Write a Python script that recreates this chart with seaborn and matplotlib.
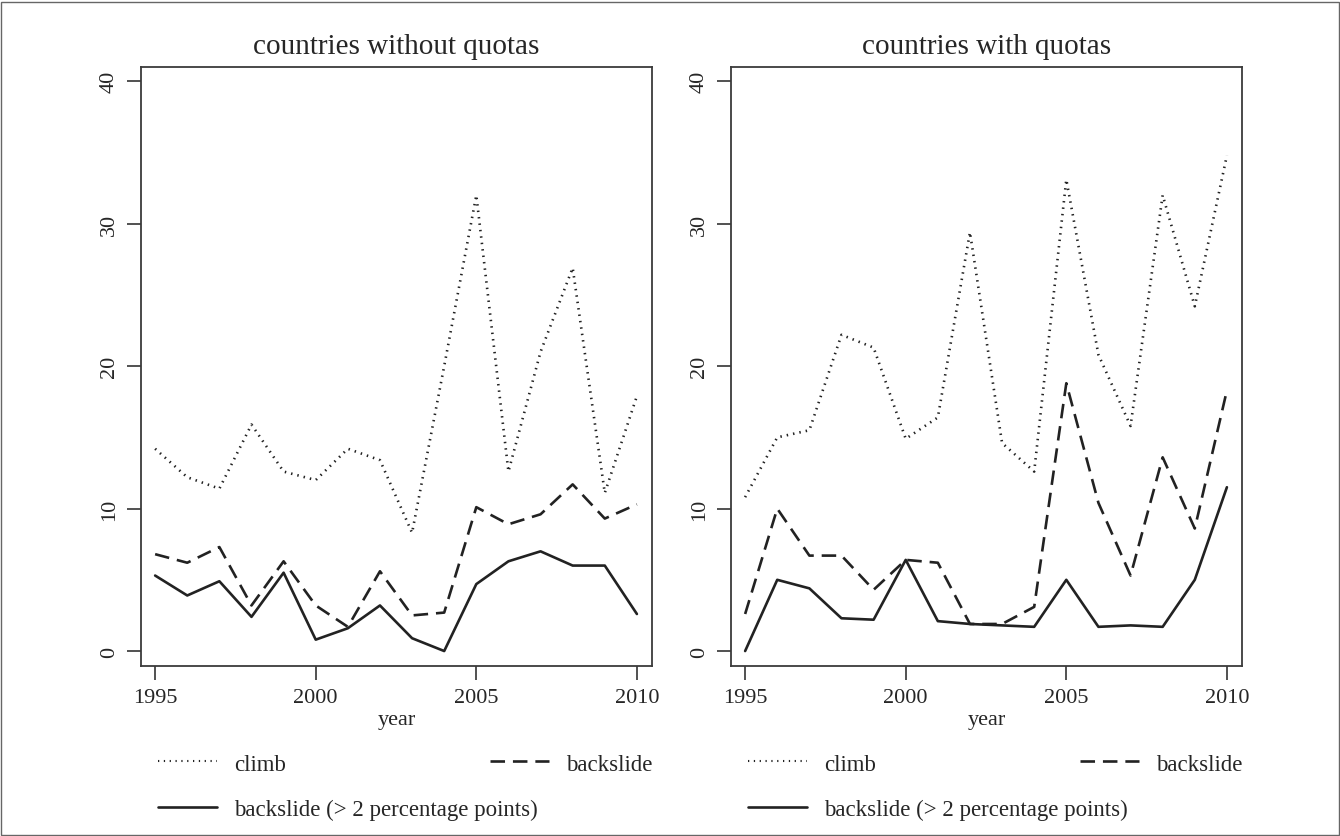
import numpy as np
import pandas as pd
import seaborn as sns
import matplotlib.pyplot as plt
from matplotlib.lines import Line2D
from matplotlib.patches import Rectangle

years = list(range(1995, 2011))

# countries without quotas
climb_no = [14.2, 12.2, 11.4, 15.9, 12.6, 12.0, 14.2, 13.4, 8.3, 20.0, 32.0, 12.6, 21.0, 26.9, 11.1, 17.9]
back_no = [6.8, 6.2, 7.3, 3.2, 6.3, 3.2, 1.7, 5.6, 2.5, 2.7, 10.1, 8.9, 9.6, 11.7, 9.3, 10.3]
back2_no = [5.3, 3.9, 4.9, 2.4, 5.5, 0.8, 1.6, 3.2, 0.9, 0.0, 4.7, 6.3, 7.0, 6.0, 6.0, 2.6]

# countries with quotas
climb_q = [10.8, 15.0, 15.5, 22.2, 21.3, 14.9, 16.4, 29.4, 14.6, 12.6, 33.1, 20.8, 15.8, 32.0, 24.2, 34.8]
back_q = [2.6, 10.0, 6.7, 6.7, 4.3, 6.4, 6.2, 1.9, 1.9, 3.1, 18.8, 10.4, 5.3, 13.6, 8.6, 18.3]
back2_q = [0.0, 5.0, 4.4, 2.3, 2.2, 6.4, 2.1, 1.9, 1.8, 1.7, 5.0, 1.7, 1.8, 1.7, 5.0, 11.5]

titles = ["countries without quotas", "countries with quotas"]
series_labels = ["climb", "backslide", "backslide (> 2 percentage points)"]

sns.set_style("ticks")
plt.rcParams['font.family'] = ['Liberation Serif', 'DejaVu Serif']

col = "#222222"
LW = 1.9
dash_map = {
    "climb": (0.55, 1.9),
    "backslide": (5.5, 3.0),
    "backslide (> 2 percentage points)": None,
}

fig = plt.figure(figsize=(13.4, 8.37), dpi=100)
W, H = 1340, 837
ax1 = fig.add_axes([141 / W, 1 - 667 / H, 511 / W, 599 / H])
ax2 = fig.add_axes([731 / W, 1 - 667 / H, 511 / W, 599 / H])

panels = [(ax1, [climb_no, back_no, back2_no]), (ax2, [climb_q, back_q, back2_q])]

for i, (ax, vals) in enumerate(panels):
    df = pd.DataFrame({"year": years * 3,
                       "value": vals[0] + vals[1] + vals[2],
                       "series": np.repeat(series_labels, len(years))})
    for lab in series_labels:
        sub = df[df["series"] == lab]
        sns.lineplot(data=sub, x="year", y="value", ax=ax, color=col,
                     lw=LW, legend=False)
        if dash_map[lab]:
            ax.lines[-1].set_dashes(dash_map[lab])
    ax.set_xlim(1994.56, 2010.47)
    ax.set_ylim(-1.05, 41.0)
    ax.set_xticks([1995, 2000, 2005, 2010])
    ax.set_yticks([0, 10, 20, 30, 40])
    ax.tick_params(axis='both', direction='out', length=10, width=1.2, colors='#333333',
                   labelsize=16, labelcolor='#262626', pad=6)
    plt.setp(ax.get_yticklabels(), rotation=90, va='center')
    for sp in ax.spines.values():
        sp.set_visible(True)
        sp.set_color('#3a3a3a')
        sp.set_linewidth(1.3)
    ax.set_xlabel("year", fontsize=16, color='#262626', labelpad=2)
    ax.set_ylabel("")
    ax.set_title(titles[i], fontsize=21, color='#262626', pad=10)

    h_climb = Line2D([], [], color=col, lw=1.5, dashes=(0.6, 2.2))
    h_back = Line2D([], [], color=col, lw=LW, dashes=(5.5, 3.0))
    h_back2 = Line2D([], [], color=col, lw=LW)
    leg1 = ax.legend(handles=[h_climb, h_back], labels=series_labels[:2], ncol=2,
                     loc='center left', bbox_to_anchor=(0.033, -0.1636), frameon=False,
                     fontsize=16.5, handlelength=2.6, handletextpad=0.72,
                     columnspacing=8.9, borderpad=0, borderaxespad=0)
    ax.add_artist(leg1)
    ax.legend(handles=[h_back2], labels=[series_labels[2]], loc='center left',
              bbox_to_anchor=(0.033, -0.2387), frameon=False, fontsize=16.5,
              handlelength=2.6, handletextpad=0.72, borderpad=0, borderaxespad=0)

fig.add_artist(Rectangle((0.001, 0.001), 0.998, 0.996, transform=fig.transFigure,
                         fill=False, edgecolor='#666666', lw=1.0))

fig.savefig("out.png", dpi=100, facecolor='white')
